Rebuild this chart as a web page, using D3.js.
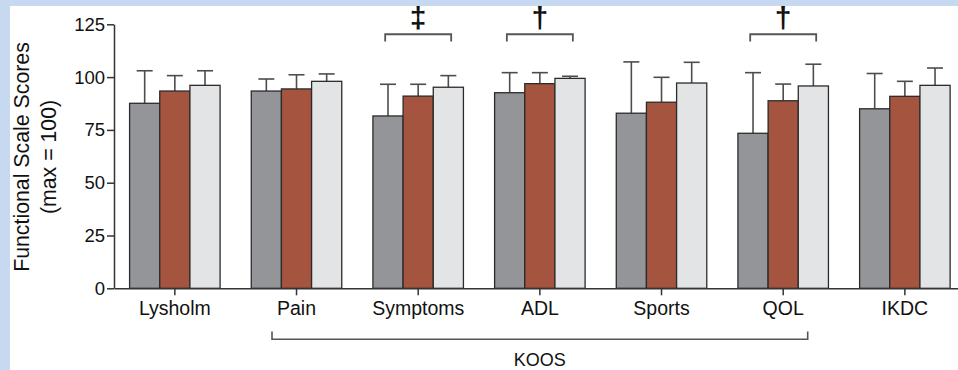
<!DOCTYPE html>
<html>
<head>
<meta charset="utf-8">
<script src="https://cdn.jsdelivr.net/npm/d3@7"></script>
<style>
  body { margin: 0; background: #c6d9f0; }
  svg { display: block; font-family: "Liberation Sans", Arial, sans-serif; }
</style>
</head>
<body>
<svg id="chart" width="958" height="370"></svg>
<script>
// -------- DATA --------
const categories = ["Lysholm", "Pain", "Symptoms", "ADL", "Sports", "QOL", "IKDC"];
const seriesKeys = ["grey", "red", "light"];

// mean scores per category
const greyMeans  = [87.6, 93.4, 81.6, 92.6, 82.9, 73.4, 85.0];
const redMeans   = [93.4, 94.4, 91.0, 96.9, 88.1, 88.8, 90.9];
const lightMeans = [96.1, 98.0, 95.2, 99.4, 97.2, 95.8, 96.1];

// upper error (SD) per category
const greyErr  = [15.4, 5.7, 15.0, 9.5, 24.3, 28.7, 16.7];
const redErr   = [7.3, 6.7, 5.6, 5.2, 11.8, 7.9, 7.1];
const lightErr = [6.9, 3.5, 5.5, 1.0, 9.8, 10.3, 8.2];

const yTicks = [0, 25, 50, 75, 100, 125];

// significance markers above groups
const sigCats = ["Symptoms", "ADL", "QOL"];
const sigSymbols = ["\u2021", "\u2020", "\u2020"];

// KOOS subscales
const koosCats = ["Pain", "Symptoms", "ADL", "Sports", "QOL"];

const colors = { grey: "#939598", red: "#a5553f", light: "#e3e4e6" };

// -------- LAYOUT --------
const svg = d3.select("#chart");
const W = 958, H = 370;

svg.append("rect").attr("width", W).attr("height", H).attr("fill", "#c6d9f0");
svg.append("rect").attr("x", 10).attr("y", 6).attr("width", W - 10).attr("height", H - 6).attr("fill", "#fff");

const x0 = d3.scaleBand().domain(categories).range([114, 965.7]).padding(0);
const x1 = d3.scaleBand().domain(seriesKeys).range([0, 90.5]).padding(0);
const y = d3.scaleLinear().domain([0, 125]).range([288.3, 24.3]);

const rows = categories.map((c, i) => ({
  cat: c,
  vals: [
    { key: "grey", mean: greyMeans[i], err: greyErr[i] },
    { key: "red", mean: redMeans[i], err: redErr[i] },
    { key: "light", mean: lightMeans[i], err: lightErr[i] }
  ]
}));

const groupX = c => x0(c) + x0.bandwidth() / 2 - 45.25;

// error bars (drawn first so bars sit on top)
const groups = svg.append("g").selectAll("g")
  .data(rows)
  .join("g")
  .attr("transform", d => `translate(${groupX(d.cat)},0)`);

groups.selectAll("line.err")
  .data(d => d.vals)
  .join("line")
  .attr("class", "err")
  .attr("x1", d => x1(d.key) + x1.bandwidth() / 2)
  .attr("x2", d => x1(d.key) + x1.bandwidth() / 2)
  .attr("y1", d => y(d.mean))
  .attr("y2", d => y(d.mean + d.err))
  .attr("stroke", "#4d4d4d")
  .attr("stroke-width", 1.6);

groups.selectAll("line.cap")
  .data(d => d.vals)
  .join("line")
  .attr("class", "cap")
  .attr("x1", d => x1(d.key) + x1.bandwidth() / 2 - 8)
  .attr("x2", d => x1(d.key) + x1.bandwidth() / 2 + 8)
  .attr("y1", d => y(d.mean + d.err))
  .attr("y2", d => y(d.mean + d.err))
  .attr("stroke", "#4d4d4d")
  .attr("stroke-width", 1.6);

groups.selectAll("rect")
  .data(d => d.vals)
  .join("rect")
  .attr("x", d => x1(d.key))
  .attr("y", d => y(d.mean))
  .attr("width", x1.bandwidth())
  .attr("height", d => y(0) - y(d.mean))
  .attr("fill", d => colors[d.key])
  .attr("stroke", "#2b2b2b")
  .attr("stroke-width", 1.3);

// -------- AXES --------
const yAxis = svg.append("g")
  .attr("transform", "translate(114,0)")
  .call(d3.axisLeft(y).tickValues(yTicks).tickSize(7).tickPadding(2).tickSizeOuter(0));
yAxis.select(".domain").attr("stroke", "#333").attr("stroke-width", 1.5);
yAxis.selectAll(".tick line").attr("stroke", "#333").attr("stroke-width", 1.5);
yAxis.selectAll(".tick text").attr("font-size", 18.5).attr("fill", "#111")
  .attr("font-family", "Liberation Sans, Arial, sans-serif");

const xAxis = svg.append("g")
  .attr("transform", "translate(0,288.3)")
  .call(d3.axisBottom(x0).tickSize(7).tickPadding(6).tickSizeOuter(0));
xAxis.select(".domain").attr("stroke", "#333").attr("stroke-width", 1.5);
xAxis.selectAll(".tick line").attr("stroke", "#333").attr("stroke-width", 1.5);
xAxis.selectAll(".tick text").attr("font-size", 19.5).attr("fill", "#111")
  .attr("font-family", "Liberation Sans, Arial, sans-serif");

// y axis title
const yTitle = svg.append("text")
  .attr("transform", "translate(29,157) rotate(-90)")
  .attr("text-anchor", "middle")
  .attr("font-size", 21.3)
  .attr("fill", "#111");
yTitle.append("tspan").attr("x", 0).attr("y", 0).text("Functional Scale Scores");
yTitle.append("tspan").attr("x", 0).attr("y", 27).text("(max = 100)");

// -------- SIGNIFICANCE BRACKETS --------
sigCats.forEach((c, i) => {
  const cx = x0(c) + x0.bandwidth() / 2;
  const top = y(120.3), leg = y(116.8);
  svg.append("path")
    .attr("d", `M${cx - 33},${leg}V${top}H${cx + 33}V${leg}`)
    .attr("fill", "none")
    .attr("stroke", "#555")
    .attr("stroke-width", 1.8);
  svg.append("text")
    .attr("x", cx)
    .attr("y", top - 6)
    .attr("text-anchor", "middle")
    .attr("font-size", 30)
    .attr("font-weight", "bold")
    .attr("fill", "#111")
    .text(sigSymbols[i]);
});

// -------- KOOS BRACKET --------
const kx1 = x0(koosCats[0]) + x0.bandwidth() / 2 - 24.5;
const kx2 = x0(koosCats[koosCats.length - 1]) + x0.bandwidth() / 2 + 24.5;
svg.append("path")
  .attr("d", `M${kx1},331.5V339.3H${kx2}V331.5`)
  .attr("fill", "none")
  .attr("stroke", "#555")
  .attr("stroke-width", 1.6);
svg.append("text")
  .attr("x", (kx1 + kx2) / 2)
  .attr("y", 366)
  .attr("text-anchor", "middle")
  .attr("font-size", 18)
  .attr("fill", "#111")
  .text("KOOS");
</script>
</body>
</html>
